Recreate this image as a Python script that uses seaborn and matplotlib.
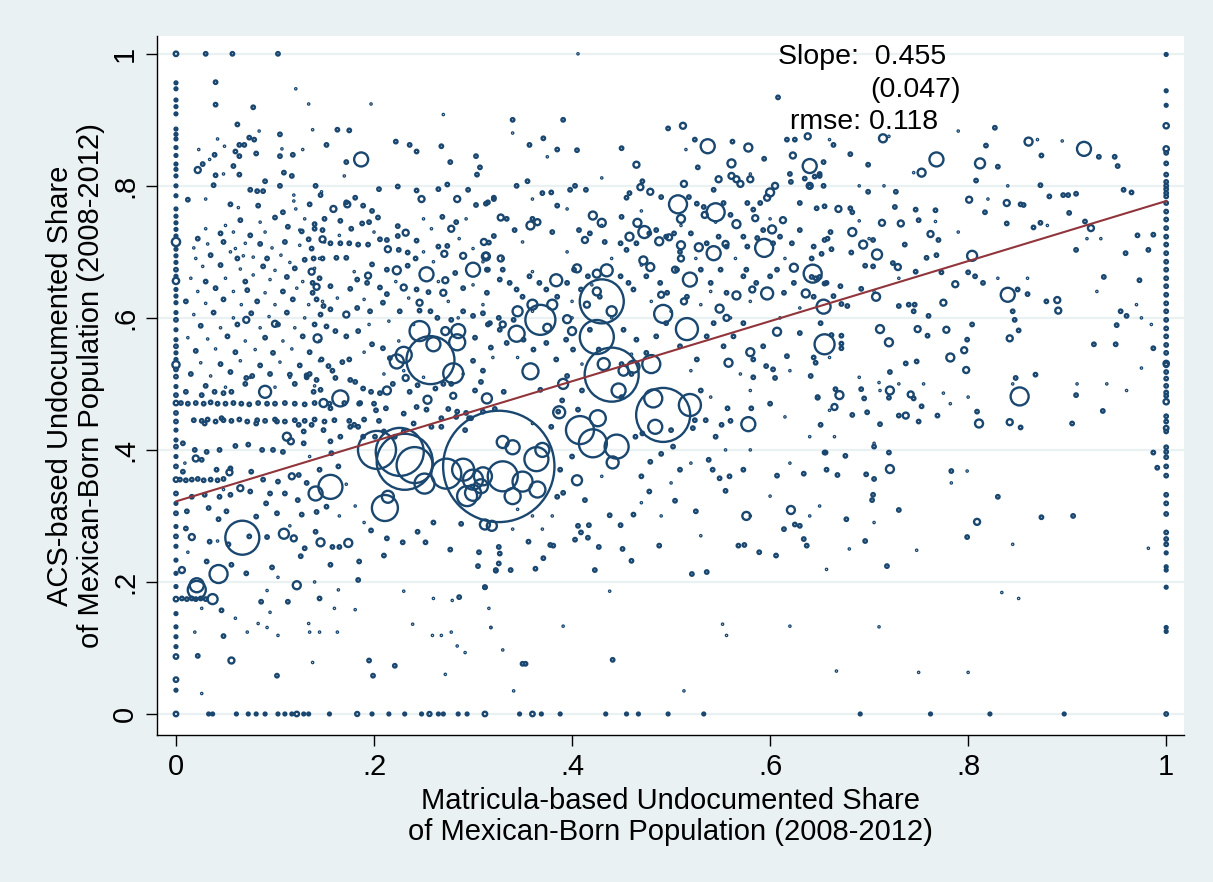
import numpy as np
import pandas as pd
import matplotlib
matplotlib.use("Agg")
import matplotlib.pyplot as plt
import seaborn as sns

# ---------------------------------------------------------------------------
# Commuting zones: matricula-based vs ACS-based undocumented share.
# "pop" is the Mexican-born population weight (hundreds) used for marker area.
# ---------------------------------------------------------------------------

# Zones with a matricula share of exactly 0
col0_acs = [1.0, 0.956, 0.947, 0.93, 0.92, 0.909, 0.886, 0.878, 0.871, 0.858,
            0.846, 0.833, 0.825, 0.815, 0.8, 0.785, 0.765, 0.754, 0.744, 0.734,
            0.724, 0.715, 0.704, 0.694, 0.684, 0.673, 0.663, 0.656, 0.643, 0.633,
            0.623, 0.608, 0.597, 0.582, 0.567, 0.557, 0.547, 0.537, 0.529, 0.522,
            0.511, 0.496, 0.483, 0.471, 0.456, 0.443, 0.43, 0.415, 0.405, 0.39,
            0.375, 0.355, 0.334, 0.319, 0.304, 0.284, 0.269, 0.254, 0.233, 0.213,
            0.193, 0.174, 0.152, 0.132, 0.117, 0.102, 0.087, 0.052, 0.036, 0.0]
col0_pop = [5, 2, 2, 2, 2, 2, 2, 2, 2, 2,
            2, 2, 2, 2, 2, 2, 2, 2, 2, 2,
            2, 17, 2, 2, 2, 3, 2, 10, 2, 2,
            2, 2, 3, 2, 2, 3, 2, 2, 13, 3,
            3, 2, 3, 5, 3, 3, 2, 2, 3, 2,
            3, 5, 3, 2, 3, 2, 3, 2, 2, 2,
            2, 5, 2, 2, 2, 2, 5, 5, 2, 5]

# Zones with a matricula share of exactly 1
col1_acs = [0.999, 0.944, 0.922, 0.891, 0.856, 0.85, 0.834, 0.817, 0.806, 0.8,
            0.795, 0.789, 0.784, 0.774, 0.761, 0.749, 0.736, 0.723, 0.711, 0.698,
            0.685, 0.673, 0.66, 0.648, 0.635, 0.622, 0.61, 0.597, 0.584, 0.572,
            0.559, 0.547, 0.531, 0.529, 0.518, 0.508, 0.497, 0.487, 0.482, 0.473,
            0.451, 0.443, 0.433, 0.428, 0.404, 0.397, 0.389, 0.375, 0.361, 0.332,
            0.319, 0.303, 0.275, 0.265, 0.257, 0.244, 0.223, 0.218, 0.192, 0.131,
            0.125, 0.0]
col1_pop = [2, 2, 2, 7, 7, 3, 3, 3, 3, 3,
            3, 3, 3, 3, 3, 3, 3, 3, 3, 3,
            3, 3, 3, 3, 3, 3, 3, 3, 3, 3,
            3, 3, 7, 5, 3, 3, 3, 3, 3, 7,
            3, 3, 5, 3, 3, 3, 3, 3, 3, 3,
            3, 3, 3, 3, 3, 2, 2, 2, 2, 2,
            2, 3]

# Zones with an ACS share of exactly 0
row0_mat = [0.033, 0.037, 0.061, 0.073, 0.081, 0.09, 0.103, 0.11, 0.117, 0.122,
            0.129, 0.134, 0.155, 0.183, 0.198, 0.215, 0.231, 0.248, 0.256, 0.265,
            0.27, 0.285, 0.294, 0.312, 0.347, 0.36, 0.369, 0.388, 0.434, 0.455,
            0.467, 0.497, 0.533, 0.691, 0.762, 0.822, 0.897]
row0_pop = [2, 2, 2, 2, 2, 2, 2, 2, 2, 5,
            2, 2, 2, 4, 2, 2, 2, 2, 4, 2,
            2, 2, 2, 5, 2, 5, 2, 2, 2, 2,
            2, 2, 2, 2, 2, 2, 2]

# Small zones (pop ~ 3), grouped by area of the plot
west_upper = [
    (0.03, 1.0), (0.057, 1.0), (0.103, 1.0), (0.04, 0.957), (0.04, 0.923), (0.078, 0.919),
    (0.062, 0.893), (0.074, 0.873), (0.079, 0.87), (0.105, 0.878), (0.064, 0.862), (0.069, 0.862),
    (0.06, 0.852), (0.064, 0.845), (0.081, 0.849), (0.105, 0.845), (0.118, 0.847), (0.152, 0.862),
    (0.039, 0.847), (0.027, 0.833), (0.04, 0.816), (0.058, 0.83), (0.064, 0.817), (0.09, 0.807),
    (0.109, 0.82), (0.117, 0.815), (0.038, 0.801), (0.075, 0.794), (0.082, 0.792), (0.088, 0.792),
    (0.105, 0.8), (0.141, 0.8), (0.146, 0.786), (0.012, 0.779), (0.055, 0.772), (0.083, 0.77),
    (0.108, 0.76), (0.135, 0.772), (0.1, 0.752), (0.065, 0.748), (0.045, 0.728), (0.075, 0.725),
    (0.113, 0.738), (0.14, 0.735), (0.022, 0.72), (0.048, 0.715), (0.085, 0.712), (0.11, 0.715),
    (0.137, 0.705), (0.035, 0.695), (0.062, 0.69), (0.092, 0.69), (0.13, 0.688), (0.045, 0.68),
    (0.088, 0.678), (0.12, 0.675), (0.03, 0.655), (0.07, 0.655), (0.112, 0.662), (0.145, 0.66),
    (0.04, 0.645), (0.072, 0.642), (0.108, 0.64), (0.138, 0.638), (0.01, 0.625), (0.048, 0.628),
    (0.082, 0.625), (0.118, 0.628), (0.038, 0.608), (0.076, 0.607), (0.112, 0.608), (0.146, 0.605),
    (0.025, 0.588), (0.062, 0.59), (0.103, 0.59), (0.14, 0.59), (0.052, 0.572), (0.09, 0.57),
    (0.128, 0.572), (0.02, 0.55), (0.06, 0.548), (0.098, 0.547), (0.135, 0.548), (0.045, 0.53),
    (0.085, 0.528), (0.125, 0.528), (0.015, 0.515), (0.055, 0.518), (0.095, 0.515), (0.135, 0.515),
    (0.03, 0.497), (0.07, 0.5), (0.12, 0.5),
]
west_rows = [
    (0.005, 0.471), (0.012, 0.47), (0.02, 0.471), (0.028, 0.47), (0.035, 0.472), (0.042, 0.47),
    (0.05, 0.47), (0.058, 0.471), (0.066, 0.47), (0.074, 0.469), (0.083, 0.471), (0.092, 0.47),
    (0.1, 0.47), (0.11, 0.471), (0.12, 0.47), (0.13, 0.469), (0.14, 0.471), (0.155, 0.47),
    (0.17, 0.471), (0.185, 0.47), (0.2, 0.47),
    (0.018, 0.445), (0.026, 0.444), (0.032, 0.446), (0.04, 0.443), (0.048, 0.445), (0.056, 0.444),
    (0.064, 0.446), (0.072, 0.443), (0.082, 0.445), (0.09, 0.444), (0.1, 0.446), (0.11, 0.443),
    (0.12, 0.445), (0.13, 0.444), (0.14, 0.446), (0.15, 0.443), (0.16, 0.445), (0.175, 0.444),
    (0.19, 0.446), (0.205, 0.444),
    (0.004, 0.355), (0.01, 0.354), (0.016, 0.355), (0.022, 0.356), (0.028, 0.354), (0.035, 0.355),
    (0.042, 0.354), (0.048, 0.356),
    (0.006, 0.175), (0.011, 0.174), (0.016, 0.175), (0.02, 0.174), (0.025, 0.175), (0.03, 0.174),
]
west_lower = [
    (0.01, 0.488), (0.026, 0.483), (0.039, 0.488), (0.048, 0.486), (0.056, 0.488), (0.071, 0.509),
    (0.077, 0.512), (0.115, 0.514), (0.132, 0.51), (0.142, 0.506), (0.161, 0.509), (0.176, 0.506),
    (0.029, 0.44), (0.046, 0.448), (0.081, 0.44), (0.102, 0.443), (0.007, 0.41), (0.019, 0.4),
    (0.031, 0.397), (0.044, 0.4), (0.06, 0.406), (0.073, 0.408), (0.087, 0.4), (0.098, 0.4),
    (0.108, 0.397), (0.129, 0.41), (0.156, 0.413), (0.157, 0.395), (0.164, 0.375), (0.007, 0.367),
    (0.026, 0.385), (0.041, 0.37), (0.055, 0.372), (0.076, 0.367), (0.088, 0.355), (0.103, 0.352),
    (0.124, 0.362), (0.132, 0.35), (0.145, 0.37), (0.016, 0.329), (0.029, 0.332), (0.044, 0.329),
    (0.055, 0.332), (0.075, 0.337), (0.095, 0.334), (0.11, 0.334), (0.123, 0.324), (0.142, 0.306),
    (0.127, 0.302), (0.152, 0.314), (0.011, 0.307), (0.033, 0.312), (0.043, 0.295), (0.051, 0.307),
    (0.081, 0.299), (0.102, 0.304), (0.091, 0.319), (0.01, 0.281), (0.034, 0.261), (0.053, 0.257),
    (0.074, 0.269), (0.092, 0.268), (0.13, 0.251), (0.141, 0.276), (0.158, 0.253), (0.165, 0.253),
    (0.156, 0.226), (0.031, 0.231), (0.056, 0.226), (0.071, 0.213), (0.097, 0.222), (0.126, 0.239),
    (0.185, 0.231), (0.046, 0.157), (0.086, 0.17), (0.145, 0.175), (0.113, 0.17), (0.184, 0.203),
    (0.048, 0.118), (0.022, 0.088), (0.102, 0.058), (0.195, 0.081), (0.199, 0.058), (0.221, 0.073),
    (0.21, 0.24), (0.288, 0.288), (0.277, 0.249), (0.252, 0.26), (0.229, 0.26), (0.213, 0.266),
    (0.26, 0.29), (0.306, 0.245), (0.326, 0.228), (0.312, 0.192), (0.305, 0.224), (0.323, 0.217),
    (0.286, 0.177), (0.244, 0.276), (0.197, 0.278),
    (0.156, 0.463), (0.186, 0.471), (0.202, 0.46), (0.212, 0.463), (0.23, 0.455), (0.243, 0.465),
    (0.253, 0.461), (0.268, 0.448), (0.275, 0.462), (0.284, 0.458), (0.293, 0.456), (0.298, 0.448),
    (0.31, 0.458), (0.322, 0.462), (0.124, 0.438), (0.129, 0.428), (0.137, 0.438), (0.149, 0.43),
    (0.166, 0.42), (0.176, 0.435), (0.18, 0.438), (0.184, 0.435), (0.189, 0.42), (0.201, 0.42),
    (0.21, 0.428), (0.221, 0.42), (0.23, 0.428), (0.24, 0.44), (0.258, 0.435), (0.268, 0.435),
    (0.283, 0.45), (0.292, 0.43), (0.296, 0.448), (0.139, 0.488), (0.146, 0.491), (0.181, 0.503),
    (0.189, 0.493), (0.197, 0.488), (0.206, 0.486), (0.219, 0.5), (0.236, 0.488), (0.244, 0.498),
    (0.262, 0.493), (0.27, 0.5), (0.278, 0.5), (0.302, 0.49), (0.308, 0.503),
]
center_upper = [
    (0.163, 0.885), (0.175, 0.884), (0.172, 0.836), (0.222, 0.867), (0.236, 0.862), (0.243, 0.852),
    (0.268, 0.86), (0.277, 0.836), (0.303, 0.845), (0.307, 0.828), (0.304, 0.817), (0.205, 0.795),
    (0.224, 0.799), (0.243, 0.793), (0.265, 0.795), (0.274, 0.802), (0.295, 0.794), (0.303, 0.771),
    (0.315, 0.775), (0.321, 0.782), (0.172, 0.775), (0.181, 0.782), (0.189, 0.77), (0.198, 0.762),
    (0.204, 0.752), (0.166, 0.747), (0.15, 0.75), (0.14, 0.742), (0.148, 0.733), (0.188, 0.743),
    (0.195, 0.745), (0.177, 0.735), (0.224, 0.739), (0.213, 0.718), (0.224, 0.724), (0.243, 0.717),
    (0.269, 0.753), (0.283, 0.745), (0.316, 0.714), (0.321, 0.724), (0.134, 0.719), (0.127, 0.731),
    (0.156, 0.713), (0.166, 0.713), (0.175, 0.713), (0.184, 0.711), (0.194, 0.711), (0.206, 0.719),
    (0.225, 0.703), (0.234, 0.699), (0.242, 0.69), (0.265, 0.708), (0.274, 0.709), (0.139, 0.69),
    (0.148, 0.69), (0.162, 0.691), (0.172, 0.691), (0.198, 0.681), (0.213, 0.673), (0.234, 0.679),
    (0.282, 0.668), (0.315, 0.673), (0.138, 0.653), (0.156, 0.648), (0.176, 0.644), (0.183, 0.658),
    (0.193, 0.653), (0.206, 0.646), (0.213, 0.636), (0.243, 0.643), (0.255, 0.639), (0.29, 0.645),
    (0.314, 0.638), (0.142, 0.628), (0.149, 0.618), (0.156, 0.613), (0.183, 0.615), (0.196, 0.61),
    (0.209, 0.623), (0.226, 0.61), (0.246, 0.611), (0.257, 0.61), (0.264, 0.6), (0.278, 0.597),
    (0.29, 0.61), (0.3, 0.603), (0.152, 0.587), (0.161, 0.58), (0.172, 0.572), (0.184, 0.58),
    (0.198, 0.56), (0.209, 0.554), (0.216, 0.539), (0.175, 0.537), (0.168, 0.533), (0.147, 0.537),
    (0.154, 0.527), (0.132, 0.513), (0.158, 0.52), (0.3, 0.535), (0.31, 0.52), (0.318, 0.555),
    (0.302, 0.57), (0.315, 0.59), (0.326, 0.6),
]
middle_upper = [
    (0.34, 0.9), (0.391, 0.9), (0.608, 0.934), (0.371, 0.872), (0.357, 0.862), (0.385, 0.855),
    (0.405, 0.854), (0.45, 0.857), (0.497, 0.887), (0.524, 0.87), (0.562, 0.867), (0.594, 0.841),
    (0.617, 0.87), (0.625, 0.87), (0.527, 0.828), (0.62, 0.818), (0.621, 0.806), (0.635, 0.811),
    (0.65, 0.818), (0.458, 0.789), (0.471, 0.807), (0.37, 0.789), (0.379, 0.79), (0.355, 0.807),
    (0.344, 0.8), (0.398, 0.794), (0.403, 0.8), (0.414, 0.794), (0.313, 0.773), (0.321, 0.78),
    (0.385, 0.77), (0.45, 0.753), (0.455, 0.782), (0.49, 0.783), (0.518, 0.783), (0.526, 0.773),
    (0.533, 0.768), (0.543, 0.794), (0.553, 0.774), (0.56, 0.756), (0.577, 0.774), (0.583, 0.764),
    (0.59, 0.774), (0.63, 0.774), (0.64, 0.799), (0.655, 0.769), (0.334, 0.75), (0.36, 0.75),
    (0.342, 0.733), (0.38, 0.73), (0.407, 0.733), (0.418, 0.728), (0.433, 0.715), (0.449, 0.713),
    (0.455, 0.703), (0.465, 0.713), (0.478, 0.728), (0.485, 0.733), (0.495, 0.723), (0.503, 0.728),
    (0.509, 0.7), (0.52, 0.728), (0.536, 0.713), (0.548, 0.723), (0.556, 0.708), (0.573, 0.723),
    (0.577, 0.708), (0.587, 0.721), (0.593, 0.733), (0.603, 0.713), (0.61, 0.723), (0.622, 0.713),
    (0.63, 0.733), (0.644, 0.708), (0.655, 0.718), (0.314, 0.673), (0.327, 0.658), (0.33, 0.673),
    (0.337, 0.653), (0.344, 0.643), (0.35, 0.632), (0.357, 0.663), (0.367, 0.653), (0.374, 0.643),
    (0.385, 0.632), (0.395, 0.653), (0.402, 0.673), (0.409, 0.643), (0.416, 0.663), (0.428, 0.632),
    (0.449, 0.663), (0.457, 0.653), (0.462, 0.643), (0.475, 0.663), (0.489, 0.653), (0.496, 0.638),
    (0.506, 0.673), (0.516, 0.632), (0.53, 0.673), (0.54, 0.653), (0.55, 0.673), (0.556, 0.638),
    (0.573, 0.663), (0.576, 0.673), (0.586, 0.653), (0.6, 0.663), (0.607, 0.673), (0.614, 0.638),
    (0.624, 0.653), (0.644, 0.632), (0.657, 0.653), (0.31, 0.607), (0.317, 0.592), (0.327, 0.582),
    (0.334, 0.562), (0.341, 0.597), (0.351, 0.567), (0.361, 0.552), (0.374, 0.562), (0.384, 0.537),
    (0.394, 0.567), (0.401, 0.552), (0.418, 0.582), (0.427, 0.552), (0.452, 0.582), (0.465, 0.567),
    (0.475, 0.547), (0.485, 0.572), (0.495, 0.592), (0.509, 0.557), (0.526, 0.537), (0.536, 0.572),
    (0.543, 0.592), (0.553, 0.557), (0.563, 0.572), (0.573, 0.592), (0.583, 0.537), (0.593, 0.557),
    (0.603, 0.522), (0.617, 0.542), (0.63, 0.577), (0.641, 0.512), (0.651, 0.592),
]
middle_lower = [
    (0.331, 0.488), (0.368, 0.491), (0.386, 0.458), (0.379, 0.435), (0.395, 0.512), (0.406, 0.461),
    (0.39, 0.475), (0.41, 0.49), (0.45, 0.48), (0.464, 0.42), (0.471, 0.425), (0.479, 0.382),
    (0.49, 0.394), (0.502, 0.405), (0.509, 0.37), (0.522, 0.433), (0.524, 0.445), (0.53, 0.49),
    (0.538, 0.385), (0.542, 0.37), (0.549, 0.357), (0.555, 0.338), (0.559, 0.36), (0.557, 0.463),
    (0.56, 0.444), (0.551, 0.438), (0.573, 0.37), (0.581, 0.463), (0.6, 0.47), (0.605, 0.509),
    (0.596, 0.527), (0.583, 0.51), (0.648, 0.479), (0.651, 0.438), (0.656, 0.396), (0.657, 0.37),
    (0.607, 0.361), (0.614, 0.28), (0.625, 0.287), (0.63, 0.285), (0.634, 0.265), (0.637, 0.255),
    (0.606, 0.24), (0.589, 0.245), (0.568, 0.255), (0.574, 0.256), (0.536, 0.215), (0.521, 0.212),
    (0.525, 0.307), (0.504, 0.323), (0.478, 0.337), (0.462, 0.302), (0.451, 0.25), (0.46, 0.232),
    (0.488, 0.255), (0.449, 0.286), (0.438, 0.301), (0.423, 0.218), (0.427, 0.253), (0.417, 0.286),
    (0.409, 0.275), (0.416, 0.267), (0.406, 0.285), (0.403, 0.264), (0.385, 0.329), (0.391, 0.335),
    (0.413, 0.324), (0.378, 0.256), (0.381, 0.255), (0.371, 0.236), (0.363, 0.22), (0.356, 0.261),
    (0.338, 0.218), (0.323, 0.218), (0.327, 0.243), (0.326, 0.253), (0.312, 0.192), (0.35, 0.076),
    (0.441, 0.082), (0.353, 0.076), (0.45, 0.53), (0.46, 0.515), (0.4, 0.39), (0.388, 0.37),
    (0.47, 0.36), (0.5, 0.43), (0.535, 0.445), (0.545, 0.42),
]
east = [
    (0.664, 0.862), (0.681, 0.848), (0.654, 0.836), (0.699, 0.832), (0.699, 0.791), (0.727, 0.791),
    (0.645, 0.814), (0.65, 0.815), (0.654, 0.8), (0.647, 0.766), (0.681, 0.766), (0.683, 0.76),
    (0.726, 0.768), (0.747, 0.764), (0.767, 0.763), (0.75, 0.748), (0.817, 0.76), (0.827, 0.888),
    (0.818, 0.861), (0.83, 0.829), (0.808, 0.808), (0.873, 0.801), (0.874, 0.846), (0.882, 0.784),
    (0.896, 0.786), (0.901, 0.786), (0.909, 0.788), (0.948, 0.844), (0.951, 0.83), (0.957, 0.794),
    (0.965, 0.79), (0.932, 0.844), (0.873, 0.744), (0.866, 0.737), (0.902, 0.759), (0.918, 0.746),
    (0.839, 0.743), (0.853, 0.772), (0.856, 0.771), (0.77, 0.718), (0.736, 0.711), (0.704, 0.718),
    (0.704, 0.678), (0.696, 0.679), (0.724, 0.683), (0.758, 0.691), (0.768, 0.695), (0.682, 0.699),
    (0.662, 0.704), (0.658, 0.72), (0.661, 0.73), (0.652, 0.697), (0.642, 0.69), (0.642, 0.662),
    (0.646, 0.66), (0.65, 0.662), (0.655, 0.652), (0.664, 0.633), (0.671, 0.648), (0.672, 0.621),
    (0.678, 0.618), (0.662, 0.574), (0.672, 0.573), (0.672, 0.554), (0.644, 0.54), (0.646, 0.532),
    (0.672, 0.561), (0.692, 0.644), (0.747, 0.67), (0.773, 0.669), (0.8, 0.669), (0.807, 0.663),
    (0.815, 0.653), (0.85, 0.643), (0.86, 0.636), (0.879, 0.625), (0.909, 0.703), (0.937, 0.662),
    (0.959, 0.698), (0.973, 0.657), (0.982, 0.703), (0.971, 0.725), (0.987, 0.726), (0.954, 0.61),
    (0.96, 0.603), (0.95, 0.589), (0.949, 0.56), (0.927, 0.56), (0.987, 0.554), (0.845, 0.61),
    (0.847, 0.597), (0.851, 0.581), (0.804, 0.59), (0.799, 0.567), (0.76, 0.603), (0.759, 0.573),
    (0.748, 0.534), (0.737, 0.531), (0.73, 0.618), (0.74, 0.62), (0.746, 0.62), (0.745, 0.61),
    (0.721, 0.518), (0.848, 0.509), (0.868, 0.514), (0.648, 0.48), (0.666, 0.492), (0.692, 0.492),
    (0.695, 0.478), (0.72, 0.479), (0.745, 0.478), (0.753, 0.466), (0.683, 0.453), (0.698, 0.457),
    (0.711, 0.439), (0.73, 0.452), (0.75, 0.443), (0.769, 0.452), (0.809, 0.458), (0.853, 0.434),
    (0.909, 0.483), (0.936, 0.459), (0.905, 0.44), (0.655, 0.396), (0.676, 0.391), (0.705, 0.405),
    (0.72, 0.396), (0.634, 0.364), (0.668, 0.362), (0.697, 0.363), (0.705, 0.356), (0.783, 0.368),
    (0.704, 0.332), (0.703, 0.324), (0.73, 0.309), (0.677, 0.295), (0.83, 0.329), (0.874, 0.298),
    (0.906, 0.3), (0.799, 0.268), (0.696, 0.262), (0.718, 0.224), (0.987, 0.396), (0.991, 0.373),
]

# Very small zones (pop ~ 0.4)
specks = [
    (0.121, 0.947), (0.134, 0.924), (0.042, 0.871), (0.084, 0.883), (0.138, 0.885), (0.023, 0.855),
    (0.049, 0.86), (0.107, 0.856), (0.128, 0.855), (0.034, 0.84), (0.048, 0.818), (0.03, 0.78),
    (0.063, 0.767), (0.121, 0.765), (0.13, 0.75), (0.085, 0.745), (0.05, 0.74), (0.058, 0.73),
    (0.09, 0.73), (0.125, 0.733), (0.03, 0.735), (0.018, 0.706), (0.032, 0.712), (0.06, 0.705),
    (0.07, 0.713), (0.097, 0.706), (0.125, 0.71), (0.15, 0.715), (0.02, 0.69), (0.055, 0.7),
    (0.068, 0.694), (0.078, 0.692), (0.106, 0.695), (0.115, 0.684), (0.145, 0.69), (0.027, 0.678),
    (0.065, 0.674), (0.1, 0.672), (0.14, 0.675), (0.015, 0.66), (0.05, 0.66), (0.078, 0.665),
    (0.095, 0.658), (0.128, 0.655), (0.022, 0.64), (0.058, 0.64), (0.09, 0.638), (0.122, 0.645),
    (0.03, 0.622), (0.066, 0.62), (0.1, 0.62), (0.134, 0.62), (0.148, 0.625), (0.018, 0.605),
    (0.058, 0.6), (0.094, 0.602), (0.13, 0.6), (0.045, 0.585), (0.085, 0.585), (0.12, 0.585),
    (0.012, 0.57), (0.032, 0.568), (0.07, 0.565), (0.108, 0.565), (0.145, 0.565), (0.04, 0.553),
    (0.08, 0.552), (0.117, 0.553), (0.025, 0.532), (0.065, 0.535), (0.105, 0.533), (0.145, 0.535),
    (0.035, 0.512), (0.075, 0.51), (0.115, 0.51), (0.05, 0.495), (0.1, 0.495), (0.14, 0.497),
    (0.092, 0.187), (0.095, 0.154), (0.026, 0.16), (0.16, 0.16), (0.181, 0.158), (0.019, 0.124),
    (0.072, 0.124), (0.083, 0.137), (0.092, 0.131), (0.103, 0.119), (0.134, 0.137), (0.135, 0.124),
    (0.145, 0.124), (0.163, 0.124), (0.138, 0.078), (0.026, 0.031), (0.239, 0.136), (0.259, 0.119),
    (0.268, 0.119), (0.278, 0.124), (0.284, 0.103), (0.292, 0.093), (0.272, 0.06), (0.318, 0.131),
    (0.279, 0.172), (0.26, 0.175), (0.23, 0.186), (0.103, 0.207), (0.042, 0.262), (0.14, 0.2),
    (0.164, 0.188), (0.06, 0.145), (0.012, 0.245), (0.115, 0.285), (0.048, 0.34), (0.165, 0.3),
    (0.19, 0.29), (0.181, 0.315), (0.172, 0.348), (0.009, 0.38), (0.135, 0.39),
    (0.197, 0.924), (0.27, 0.908), (0.17, 0.815), (0.147, 0.791), (0.119, 0.786), (0.119, 0.777),
    (0.293, 0.75), (0.25, 0.75), (0.258, 0.735), (0.2, 0.73), (0.165, 0.725), (0.286, 0.72),
    (0.3, 0.705), (0.31, 0.685), (0.26, 0.685), (0.25, 0.7), (0.18, 0.67), (0.222, 0.655),
    (0.265, 0.655), (0.3, 0.65), (0.235, 0.63), (0.19, 0.628), (0.163, 0.63), (0.275, 0.625),
    (0.31, 0.62), (0.215, 0.595), (0.24, 0.59), (0.285, 0.6), (0.195, 0.59), (0.225, 0.565),
    (0.19, 0.548), (0.25, 0.51), (0.23, 0.52), (0.21, 0.515), (0.29, 0.515), (0.32, 0.54),
    (0.406, 1.0), (0.34, 0.88), (0.375, 0.844), (0.515, 0.855), (0.58, 0.818), (0.43, 0.812),
    (0.36, 0.78), (0.395, 0.765), (0.47, 0.762), (0.51, 0.74), (0.545, 0.745), (0.6, 0.75),
    (0.43, 0.74), (0.35, 0.715), (0.395, 0.7), (0.44, 0.69), (0.47, 0.68), (0.525, 0.69),
    (0.565, 0.69), (0.615, 0.69), (0.33, 0.69), (0.36, 0.67), (0.42, 0.65), (0.48, 0.625),
    (0.53, 0.62), (0.58, 0.625), (0.63, 0.615), (0.36, 0.61), (0.4, 0.6), (0.44, 0.6),
    (0.5, 0.61), (0.56, 0.6), (0.61, 0.6), (0.345, 0.54), (0.41, 0.53), (0.46, 0.545),
    (0.52, 0.52), (0.57, 0.515), (0.62, 0.52), (0.66, 0.54), (0.4, 0.625), (0.54, 0.64),
    (0.316, 0.16), (0.318, 0.131), (0.33, 0.097), (0.341, 0.035), (0.391, 0.133), (0.438, 0.186),
    (0.513, 0.035), (0.552, 0.136), (0.556, 0.119), (0.62, 0.133), (0.657, 0.219), (0.34, 0.28),
    (0.36, 0.3), (0.38, 0.3), (0.36, 0.44), (0.43, 0.36), (0.47, 0.32), (0.5, 0.35),
    (0.52, 0.38), (0.555, 0.4), (0.58, 0.4), (0.6, 0.33), (0.62, 0.38), (0.64, 0.42),
    (0.615, 0.45), (0.58, 0.49), (0.54, 0.48), (0.37, 0.28), (0.345, 0.31), (0.49, 0.3),
    (0.53, 0.27), (0.58, 0.3), (0.64, 0.3),
    (0.66, 0.87), (0.72, 0.875), (0.79, 0.883), (0.87, 0.87), (0.895, 0.868), (0.745, 0.82),
    (0.69, 0.8), (0.715, 0.8), (0.82, 0.78), (0.84, 0.8), (0.88, 0.74), (0.767, 0.746),
    (0.69, 0.747), (0.7, 0.72), (0.79, 0.73), (0.92, 0.72), (0.934, 0.72), (0.705, 0.64),
    (0.73, 0.66), (0.83, 0.66), (0.86, 0.66), (0.93, 0.64), (0.97, 0.62), (0.975, 0.6),
    (0.985, 0.59), (0.96, 0.49), (0.73, 0.5), (0.755, 0.5), (0.845, 0.5), (0.91, 0.5),
    (0.94, 0.5), (0.66, 0.46), (0.69, 0.51), (0.71, 0.502), (0.711, 0.49), (0.775, 0.486),
    (0.782, 0.47), (0.8, 0.48), (0.665, 0.42), (0.705, 0.41), (0.783, 0.35), (0.799, 0.368),
    (0.65, 0.315), (0.705, 0.29), (0.748, 0.248), (0.845, 0.257), (0.834, 0.184), (0.851, 0.175),
    (0.71, 0.132), (0.667, 0.065), (0.75, 0.063), (0.8, 0.063), (0.982, 0.251), (0.975, 0.524),
    (0.68, 0.25),
]

# Larger zones: (matricula share, ACS share, pop)
large_zones = [
    (0.326, 0.375, 3100), (0.364, 0.386, 144), (0.33, 0.36, 225), (0.34, 0.404, 49),
    (0.35, 0.352, 100), (0.365, 0.34, 64), (0.34, 0.33, 64), (0.308, 0.345, 49),
    (0.3, 0.335, 64), (0.31, 0.36, 81), (0.33, 0.412, 36), (0.37, 0.4, 49),
    (0.319, 0.285, 25), (0.358, 0.519, 64), (0.44, 0.514, 729), (0.492, 0.453, 729),
    (0.482, 0.478, 81), (0.484, 0.435, 49), (0.519, 0.468, 121), (0.408, 0.43, 196),
    (0.421, 0.41, 196), (0.426, 0.448, 64), (0.445, 0.405, 144), (0.441, 0.381, 36),
    (0.405, 0.354, 25), (0.387, 0.457, 36), (0.391, 0.5, 25), (0.432, 0.53, 36),
    (0.447, 0.49, 49), (0.452, 0.52, 25), (0.578, 0.439, 49), (0.43, 0.625, 484),
    (0.425, 0.571, 289), (0.368, 0.597, 225), (0.344, 0.576, 64), (0.462, 0.526, 36),
    (0.48, 0.53, 81), (0.257, 0.536, 576), (0.231, 0.382, 784), (0.203, 0.4, 361),
    (0.226, 0.397, 576), (0.241, 0.377, 324), (0.251, 0.349, 100), (0.273, 0.364, 225),
    (0.29, 0.37, 121), (0.294, 0.33, 100), (0.3, 0.355, 100), (0.312, 0.287, 25),
    (0.067, 0.267, 289), (0.043, 0.212, 81), (0.021, 0.188, 81), (0.021, 0.195, 49),
    (0.037, 0.174, 25), (0.122, 0.195, 16), (0.056, 0.081, 9), (0.006, 0.218, 9),
    (0.016, 0.268, 9), (0.109, 0.273, 25), (0.119, 0.266, 9), (0.146, 0.26, 16),
    (0.174, 0.259, 16), (0.156, 0.344, 144), (0.141, 0.334, 49), (0.065, 0.342, 9),
    (0.054, 0.366, 9), (0.02, 0.387, 9), (0.117, 0.36, 9), (0.09, 0.488, 36),
    (0.112, 0.42, 16), (0.116, 0.413, 9), (0.149, 0.471, 16), (0.166, 0.478, 64),
    (0.211, 0.312, 169), (0.214, 0.329, 36), (0.254, 0.476, 16), (0.213, 0.49, 16),
    (0.232, 0.509, 9), (0.28, 0.482, 9), (0.314, 0.478, 25), (0.187, 0.84, 49),
    (0.022, 0.824, 9), (0.248, 0.78, 9), (0.284, 0.78, 9), (0.159, 0.765, 9),
    (0.173, 0.772, 9), (0.232, 0.729, 9), (0.278, 0.735, 9), (0.311, 0.715, 9),
    (0.148, 0.719, 9), (0.214, 0.704, 9), (0.271, 0.697, 9), (0.29, 0.694, 9),
    (0.313, 0.694, 9), (0.223, 0.672, 16), (0.253, 0.666, 49), (0.272, 0.657, 9),
    (0.3, 0.673, 49), (0.137, 0.67, 9), (0.142, 0.647, 9), (0.23, 0.646, 9),
    (0.27, 0.638, 9), (0.172, 0.605, 9), (0.246, 0.623, 9), (0.071, 0.597, 9),
    (0.1, 0.591, 9), (0.143, 0.569, 16), (0.194, 0.664, 9), (0.223, 0.534, 49),
    (0.23, 0.544, 64), (0.246, 0.58, 100), (0.26, 0.56, 49), (0.285, 0.58, 49),
    (0.284, 0.563, 64), (0.28, 0.516, 100), (0.272, 0.58, 16),
    (0.512, 0.891, 9), (0.537, 0.86, 49), (0.578, 0.858, 16), (0.623, 0.846, 9),
    (0.638, 0.875, 9), (0.64, 0.83, 49), (0.561, 0.834, 16), (0.561, 0.815, 9),
    (0.566, 0.81, 9), (0.57, 0.803, 9), (0.58, 0.81, 9), (0.548, 0.81, 9),
    (0.465, 0.832, 9), (0.469, 0.798, 9), (0.479, 0.791, 9), (0.513, 0.803, 9),
    (0.6, 0.79, 16), (0.605, 0.8, 9), (0.597, 0.782, 9), (0.64, 0.8, 9),
    (0.507, 0.772, 81), (0.545, 0.76, 81), (0.421, 0.755, 16), (0.43, 0.744, 16),
    (0.466, 0.744, 16), (0.473, 0.73, 36), (0.458, 0.723, 16), (0.51, 0.75, 16),
    (0.534, 0.756, 9), (0.566, 0.742, 16), (0.585, 0.751, 9), (0.602, 0.734, 16),
    (0.613, 0.748, 9), (0.328, 0.752, 9), (0.358, 0.74, 16), (0.365, 0.745, 9),
    (0.413, 0.718, 9), (0.313, 0.693, 16), (0.328, 0.69, 9), (0.384, 0.657, 36),
    (0.405, 0.675, 16), (0.425, 0.667, 16), (0.435, 0.672, 36), (0.472, 0.687, 16),
    (0.479, 0.677, 16), (0.488, 0.716, 16), (0.498, 0.722, 9), (0.51, 0.71, 16),
    (0.51, 0.69, 9), (0.528, 0.707, 16), (0.543, 0.698, 49), (0.555, 0.712, 9),
    (0.504, 0.673, 9), (0.519, 0.658, 49), (0.566, 0.634, 16), (0.582, 0.643, 9),
    (0.597, 0.637, 36), (0.594, 0.706, 81), (0.624, 0.676, 16), (0.643, 0.667, 81),
    (0.636, 0.637, 16), (0.654, 0.617, 49), (0.655, 0.56, 100), (0.607, 0.579, 16),
    (0.58, 0.548, 16), (0.558, 0.532, 16), (0.549, 0.614, 16), (0.556, 0.6, 9),
    (0.516, 0.583, 121), (0.492, 0.606, 81), (0.49, 0.635, 9), (0.513, 0.625, 9),
    (0.38, 0.62, 25), (0.395, 0.598, 16), (0.4, 0.58, 16), (0.345, 0.61, 25),
    (0.33, 0.59, 9), (0.425, 0.64, 16), (0.44, 0.61, 25), (0.415, 0.62, 9),
    (0.36, 0.62, 25), (0.375, 0.585, 16),
    (0.768, 0.84, 49), (0.753, 0.82, 16), (0.812, 0.834, 25), (0.861, 0.867, 16),
    (0.917, 0.856, 49), (0.714, 0.872, 16), (0.839, 0.774, 9), (0.801, 0.779, 9),
    (0.683, 0.73, 16), (0.694, 0.711, 16), (0.708, 0.696, 25), (0.707, 0.632, 16),
    (0.732, 0.743, 9), (0.713, 0.744, 9), (0.762, 0.727, 9), (0.804, 0.694, 25),
    (0.84, 0.635, 49), (0.89, 0.627, 9), (0.891, 0.611, 9), (0.775, 0.623, 9),
    (0.787, 0.651, 9), (0.729, 0.677, 9), (0.711, 0.583, 16), (0.72, 0.563, 16),
    (0.749, 0.583, 9), (0.778, 0.582, 9), (0.796, 0.551, 9), (0.782, 0.54, 16),
    (0.798, 0.521, 9), (0.842, 0.569, 9), (0.669, 0.765, 9), (0.924, 0.736, 9),
    (0.852, 0.481, 81), (0.811, 0.44, 16), (0.842, 0.442, 9), (0.721, 0.49, 16),
    (0.721, 0.371, 16), (0.737, 0.452, 9), (0.742, 0.484, 9), (0.67, 0.483, 16),
    (0.665, 0.465, 9), (0.809, 0.291, 9), (0.576, 0.3, 16), (0.621, 0.309, 16),
]

# Weighted OLS fit reported on the chart
slope, slope_se, intercept, rmse = 0.455, 0.047, 0.322, 0.118

x_ticks = [0, 0.2, 0.4, 0.6, 0.8, 1]
x_tick_labels = ["0", ".2", ".4", ".6", ".8", "1"]
y_ticks = [0, 0.2, 0.4, 0.6, 0.8, 1]
y_tick_labels = ["0", ".2", ".4", ".6", ".8", "1"]

# ---------------------------------------------------------------------------
SMALL_POP = 3.0
SPECK_POP = 0.4

parts = [
    pd.DataFrame({"matricula": np.zeros(len(col0_acs)), "acs": col0_acs, "pop": col0_pop}),
    pd.DataFrame({"matricula": np.ones(len(col1_acs)), "acs": col1_acs, "pop": col1_pop}),
    pd.DataFrame({"matricula": row0_mat, "acs": np.zeros(len(row0_mat)), "pop": row0_pop}),
]
for group in (west_upper, west_rows, west_lower, center_upper, middle_upper, middle_lower, east):
    parts.append(pd.DataFrame(group, columns=["matricula", "acs"]).assign(pop=SMALL_POP))
parts.append(pd.DataFrame(specks, columns=["matricula", "acs"]).assign(pop=SPECK_POP))
parts.append(pd.DataFrame(large_zones, columns=["matricula", "acs", "pop"]))
zones = pd.concat(parts, ignore_index=True)

NAVY = "#1A476F"
MAROON = "#90353B"
BG = "#EAF1F3"
FS = 21

sns.set_style("white")
plt.rcParams["font.family"] = ["Liberation Sans", "DejaVu Sans"]
plt.rcParams["text.color"] = "black"
plt.rcParams["axes.labelcolor"] = "black"
plt.rcParams["xtick.color"] = "black"
plt.rcParams["ytick.color"] = "black"

fig = plt.figure(figsize=(12.13, 8.82), dpi=100, facecolor=BG)
ax = fig.add_axes([0.1294, 0.1667, 0.8467, 0.7925])
ax.set_facecolor("white")

# marker area proportional to population (dpi 100: 1 px = 0.72 pt)
pop_max = zones["pop"].max()
area_per_pop = (2 * 0.72) ** 2
sns.scatterplot(data=zones, x="matricula", y="acs", size="pop",
                sizes=(0, area_per_pop * pop_max), size_norm=(0, pop_max),
                legend=False, ax=ax, marker="o", zorder=2)
pts = ax.collections[-1]
pts.set_facecolor("none")
pts.set_edgecolor(NAVY)
pts.set_linewidth(1.7)

fit_x = np.array([0.0, 1.0])
sns.lineplot(x=fit_x, y=intercept + slope * fit_x, color=MAROON, linewidth=1.5,
             ax=ax, zorder=3)

ax.set_xlim(-0.0192, 1.018)
ax.set_ylim(-0.0318, 1.027)

ax.set_xticks(x_ticks)
ax.set_xticklabels(x_tick_labels, fontsize=FS, color="black")
ax.set_yticks(y_ticks)
ax.set_yticklabels(y_tick_labels, fontsize=FS, rotation=90, va="center", color="black")
ax.tick_params(axis="both", direction="out", length=8, width=1, color="black",
               pad=5, bottom=True, left=True)

ax.yaxis.grid(True, color=BG, linewidth=1.6)
ax.xaxis.grid(False)
ax.set_axisbelow(True)

for side in ("top", "right"):
    ax.spines[side].set_visible(False)
for side in ("left", "bottom"):
    ax.spines[side].set_color("black")
    ax.spines[side].set_linewidth(1.0)

ax.set_xlabel("Matricula-based Undocumented Share\nof Mexican-Born Population (2008-2012)",
              fontsize=FS, labelpad=4, linespacing=1.15, color="black")
ax.set_ylabel("ACS-based Undocumented Share\nof Mexican-Born Population (2008-2012)",
              fontsize=FS, labelpad=4, linespacing=1.15, color="black")

ax.text(0.608, 0.995, f"Slope:  {slope:.3f}", fontsize=20.5, ha="left", va="center", color="black")
ax.text(0.701, 0.945, f"({slope_se:.3f})", fontsize=20.5, ha="left", va="center", color="black")
ax.text(0.620, 0.897, f"rmse: {rmse:.3f}", fontsize=20.5, ha="left", va="center", color="black")

fig.savefig("out.png", dpi=100, facecolor=BG)
